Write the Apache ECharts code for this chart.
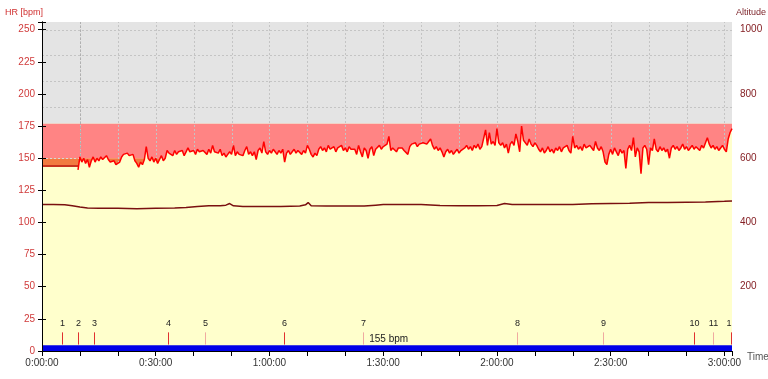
<!DOCTYPE html>
<html>
<head>
<meta charset="utf-8">
<script src="https://cdn.jsdelivr.net/npm/echarts@6/dist/echarts.min.js"></script>
<style>
html,body{margin:0;padding:0;background:#fff;}
#chart{width:768px;height:379px;}
</style>
</head>
<body>
<div id="chart"></div>
<script>
// ---------------- DATA ----------------
const xMax = 182;          // minutes
const hrMax = 256;
const altMax = 1024;

// heart rate samples: first at hrStart minutes, one every hrStep minutes
const hrStart = 9.5;
const hrStep = 0.5;
const hrValues = [
141,151,147,150,146,149,143,148,151,147,150,148,
151,149,150,152,149,147,146,148,145,144,147,
151,153,152,154,152,151,153,
148,146,143,147,145,149,159,150,
148,151,147,150,146,149,152,148,150,
156,154,155,152,156,153,155,154,156,152,155,
158,155,154,156,153,157,155,154,156,155,153,157,154,160,155,156,154,157,
152,154,151,153,155,153,160,152,155,153,
154,152,156,159,153,155,152,155,149,156,158,154,163,
155,153,156,154,157,155,153,156,154,157,147,
154,156,153,155,157,154,156,155,153,156,154,160,157,
153,151,154,152,
157,159,156,158,155,160,157,156,159,155,158,157,160,156,158,155,159,157,156,
157,153,160,155,151,158,156,150,157,159,152,157,
158,160,157,159,158,161,167,156,158,157,155,158,
157,158,156,157,153,
159,161,160,162,159,161,160,162,163,161,163,165,
160,157,159,156,158,155,151,
155,157,154,156,153,155,157,154,156,155,
158,160,157,159,156,160,158,161,157,159,158,
172,160,170,161,163,160,173,162,
160,162,158,161,154,161,163,160,169,163,155,175,164,
163,160,165,161,159,162,160,
157,155,158,154,156,159,155,157,154,
158,156,159,155,158,157,160,156,154,167,
158,160,157,159,156,161,158,157,160,158,156,163,
158,156,159,155,147,145,153,
157,153,158,155,152,157,154,156,142,
157,160,156,166,151,158,155,138,158,160,157,145,
158,156,165,157,155,159,156,158,155,157,150,
158,160,157,159,156,158,161,157,159,156,158,160,157,159,158,156,160,158,157,
166,161,158,160,157,159,156,158,160,157,155,165,170,173
];

// flat heart-rate value shown before the recording starts
const hrPreValue = 144;

// altitude [m]
const altTimes  = [0,3,6,8,10,12,15,20,25,30,35,38,41,44,47,48.5,49.5,50.5,53,58,63,68,69.5,70.2,71,75,80,85,88,90,95,100,105,110,115,120,122,124,130,135,140,145,150,155,160,165,170,175,180,182];
const altValues = [456,456,455,452,448,445,444,444,443,444,445,447,450,452,452,454,459,452,450,450,450,451,455,462,452,451,451,451,454,456,456,456,453,452,452,453,459,456,456,456,456,458,459,460,462,462,463,464,466,467];

// heart rate zones [low, high]
const hrZones = [[144,150],[150,177],[177,256]];

// laps
const lapTimes  = [5.4,9.6,13.8,33.3,43.0,63.9,84.7,125.3,148.0,172.0,177.0,181.7];
const lapNames  = ['1','2','3','4','5','6','7','8','9','10','11','12'];

// annotation
const noteText = '155 bpm';
const noteTime = 86.3;

// cursor crosshair
const cursorTime = 10.1;
const cursorHr = 150;

// axis titles
const hrTitle = 'HR [bpm]';
const altTitle = 'Altitude';
const timeTitle = 'Time';

// tick labels
const xLabelEvery = 30;   // minutes
const altLabelEvery = 200;

// ---------------- STYLE ----------------
const FONT = '"Liberation Sans", Arial, sans-serif';
const zoneColors = ['#f27a40','#ff8484','#e4e4e4'];
const lapColors = ['#e03030','#e03030','#e03030','#e03030','#f0aaa0','#e03030','#f0aaa0','#f0aaa0','#f0aaa0','#e03030','#f0aaa0','#e03030'];
const gridXLines = [10,20,30,40,50,60,70,80,90,100,110,120,130,140,150,160,170,180];
const gridYLines = [190,210,230,250];
const barTop = 4.5;
const lapLineLow = 5, lapLineHigh = 14.5, lapLabelY = 21;

const hrData = hrValues.map((v, i) => [hrStart + i * hrStep, v]);
const altData = altTimes.map((t, i) => [t, altValues[i]]);

function fmtTime(m) {
  const h = Math.floor(m / 60);
  const mm = Math.round(m % 60);
  return h + ':' + (mm < 10 ? '0' : '') + mm + ':00';
}

const chart = echarts.init(document.getElementById('chart'), null, {renderer: 'canvas'});

const option = {
  animation: false,
  backgroundColor: '#ffffff',
  textStyle: {fontFamily: FONT},
  grid: {left: 42, right: 36, top: 22, bottom: 28, show: true, backgroundColor: '#ffffcc', borderWidth: 0, z: 0,
         containLabel: false, outerBoundsMode: 'none'},
  graphic: [
    {type: 'text', x: 43, y: 13, z: 20, style: {text: hrTitle, fill: '#d03030', font: '9px ' + FONT, align: 'right', verticalAlign: 'middle'}},
    {type: 'text', x: 736, y: 13, z: 20, style: {text: altTitle, fill: '#7a1f25', font: '9px ' + FONT, align: 'left', verticalAlign: 'middle'}},
    {type: 'text', x: 747, y: 357, z: 20, style: {text: timeTitle, fill: '#555', font: '10px ' + FONT, align: 'left', verticalAlign: 'middle'}}
  ],
  xAxis: [{
    type: 'value', min: 0, max: xMax, interval: 10, position: 'bottom', z: 10,
    axisLine: {show: true, lineStyle: {color: '#000', width: 1}},
    axisTick: {show: true, length: 5, lineStyle: {color: '#000'}},
    axisLabel: {color: '#333', fontSize: 10, fontFamily: FONT, margin: 7,
      formatter: v => (v % xLabelEvery === 0 ? fmtTime(v) : '')},
    splitLine: {show: false}
  }, {
    type: 'value', min: 0, max: xMax, position: 'top', z: 10,
    axisLine: {show: true, lineStyle: {color: '#000', width: 1}},
    axisTick: {show: false}, axisLabel: {show: false}, splitLine: {show: false}
  }],
  yAxis: [{
    type: 'value', min: 0, max: hrMax, interval: 25, position: 'left', z: 10,
    axisLine: {show: true, lineStyle: {color: '#000', width: 1}},
    axisTick: {show: true, length: 4, lineStyle: {color: '#000'}},
    axisLabel: {color: '#d03a3a', fontSize: 10, fontFamily: FONT, margin: 7,
      formatter: v => (v % 25 === 0 ? String(v) : '')},
    splitLine: {show: false}
  }, {
    type: 'value', min: 0, max: altMax, interval: 100, position: 'right', z: 10,
    axisLine: {show: true, lineStyle: {color: '#000', width: 1}},
    axisTick: {show: true, length: 4, lineStyle: {color: '#000'}},
    axisLabel: {color: '#852025', fontSize: 10, fontFamily: FONT, margin: 8,
      formatter: v => (v > 0 && v % altLabelEvery === 0 ? String(v) : '')},
    splitLine: {show: false}
  }],
  series: [
    { // zones
      type: 'custom', z: 1, silent: true, coordinateSystem: 'cartesian2d',
      data: hrZones.map((z, i) => [z[0], z[1], i]),
      renderItem: (params, api) => {
        const lo = api.value(0), hi = api.value(1), idx = api.value(2);
        const p1 = api.coord([0, hi]);
        const p2 = api.coord([xMax, lo]);
        return {type: 'rect', shape: {x: p1[0], y: p1[1], width: p2[0] - p1[0], height: p2[1] - p1[1]},
          style: {fill: zoneColors[idx]}};
      }
    },
    { // vertical grid lines
      type: 'custom', z: 2, silent: true, coordinateSystem: 'cartesian2d',
      data: gridXLines.map(t => [t]),
      renderItem: (params, api) => {
        const t = api.value(0);
        const a = api.coord([t, 0]), b = api.coord([t, hrMax]);
        return {type: 'line', shape: {x1: Math.round(a[0]) + 0.5, y1: a[1], x2: Math.round(b[0]) + 0.5, y2: b[1]},
          style: {stroke: '#c4c4c4', lineWidth: 1, lineDash: [2, 2]}};
      }
    },
    { // horizontal grid lines
      type: 'custom', z: 2, silent: true, coordinateSystem: 'cartesian2d',
      data: gridYLines.map(v => [0, v]),
      renderItem: (params, api) => {
        const v = api.value(1);
        const a = api.coord([0, v]), b = api.coord([xMax, v]);
        return {type: 'line', shape: {x1: a[0], y1: Math.round(a[1]) + 0.5, x2: b[0], y2: Math.round(b[1]) + 0.5},
          style: {stroke: '#c4c4c4', lineWidth: 1, lineDash: [2, 2]}};
      }
    },
    { // cursor crosshair
      type: 'custom', z: 2, silent: true, coordinateSystem: 'cartesian2d',
      data: [[cursorTime, cursorHr]],
      renderItem: (params, api) => {
        const t = api.value(0), h = api.value(1);
        const c = api.coord([t, h]), top = api.coord([t, hrMax]), left = api.coord([0, h]);
        const x = Math.round(c[0]) + 0.5, y = Math.round(c[1]) + 0.5;
        return {type: 'group', children: [
          {type: 'line', shape: {x1: x, y1: top[1], x2: x, y2: y}, style: {stroke: '#b0b0b0', lineWidth: 1, lineDash: [2, 2]}},
          {type: 'line', shape: {x1: left[0], y1: y, x2: x, y2: y}, style: {stroke: '#d8d8d8', lineWidth: 1, lineDash: [2, 2]}}
        ]};
      }
    },
    { // pre-recording flat HR
      type: 'line', z: 3, symbol: 'none', silent: true,
      data: [[0, hrPreValue], [hrStart, hrPreValue]],
      lineStyle: {color: '#c8321e', width: 2},
      areaStyle: {color: '#ffffcc', opacity: 1}
    },
    { // heart rate
      name: 'HR', type: 'line', z: 3, symbol: 'none', silent: true,
      data: hrData,
      lineStyle: {color: '#ff0000', width: 1.5},
      areaStyle: {color: '#ffffcc', opacity: 1}
    },
    { // altitude
      name: 'Altitude', type: 'line', z: 4, yAxisIndex: 1, symbol: 'none', silent: true,
      data: altData,
      lineStyle: {color: '#7a1010', width: 1.5}
    },
    { // bottom blue bar
      type: 'custom', z: 5, silent: true, coordinateSystem: 'cartesian2d',
      data: [[0, barTop]],
      renderItem: (params, api) => {
        const p1 = api.coord([0, api.value(1)]), p2 = api.coord([xMax, 0]);
        return {type: 'rect', shape: {x: p1[0], y: p1[1], width: p2[0] - p1[0], height: p2[1] - p1[1]},
          style: {fill: '#0000e8'}};
      }
    },
    { // laps
      type: 'custom', z: 6, silent: true, coordinateSystem: 'cartesian2d', clip: true,
      data: lapTimes.map((t, i) => [t, i]),
      renderItem: (params, api) => {
        const t = api.value(0), i = api.value(1);
        const a = api.coord([t, lapLineLow]), b = api.coord([t, lapLineHigh]), c = api.coord([t, lapLabelY]);
        const x = Math.round(a[0]) + 0.5;
        return {type: 'group', children: [
          {type: 'line', shape: {x1: x, y1: a[1], x2: x, y2: b[1]}, style: {stroke: lapColors[i], lineWidth: 1}},
          {type: 'text', x: x, y: c[1], style: {text: lapNames[i], fill: '#222', font: '9px ' + FONT, align: 'center', verticalAlign: 'middle'}}
        ]};
      }
    },
    { // annotation
      type: 'custom', z: 6, silent: true, coordinateSystem: 'cartesian2d',
      data: [[noteTime, 9]],
      renderItem: (params, api) => {
        const c = api.coord([api.value(0), api.value(1)]);
        return {type: 'text', x: c[0], y: c[1], style: {text: noteText, fill: '#222', font: '10px ' + FONT, align: 'left', verticalAlign: 'middle'}};
      }
    }
  ]
};
chart.setOption(option);
</script>
</body>
</html>
